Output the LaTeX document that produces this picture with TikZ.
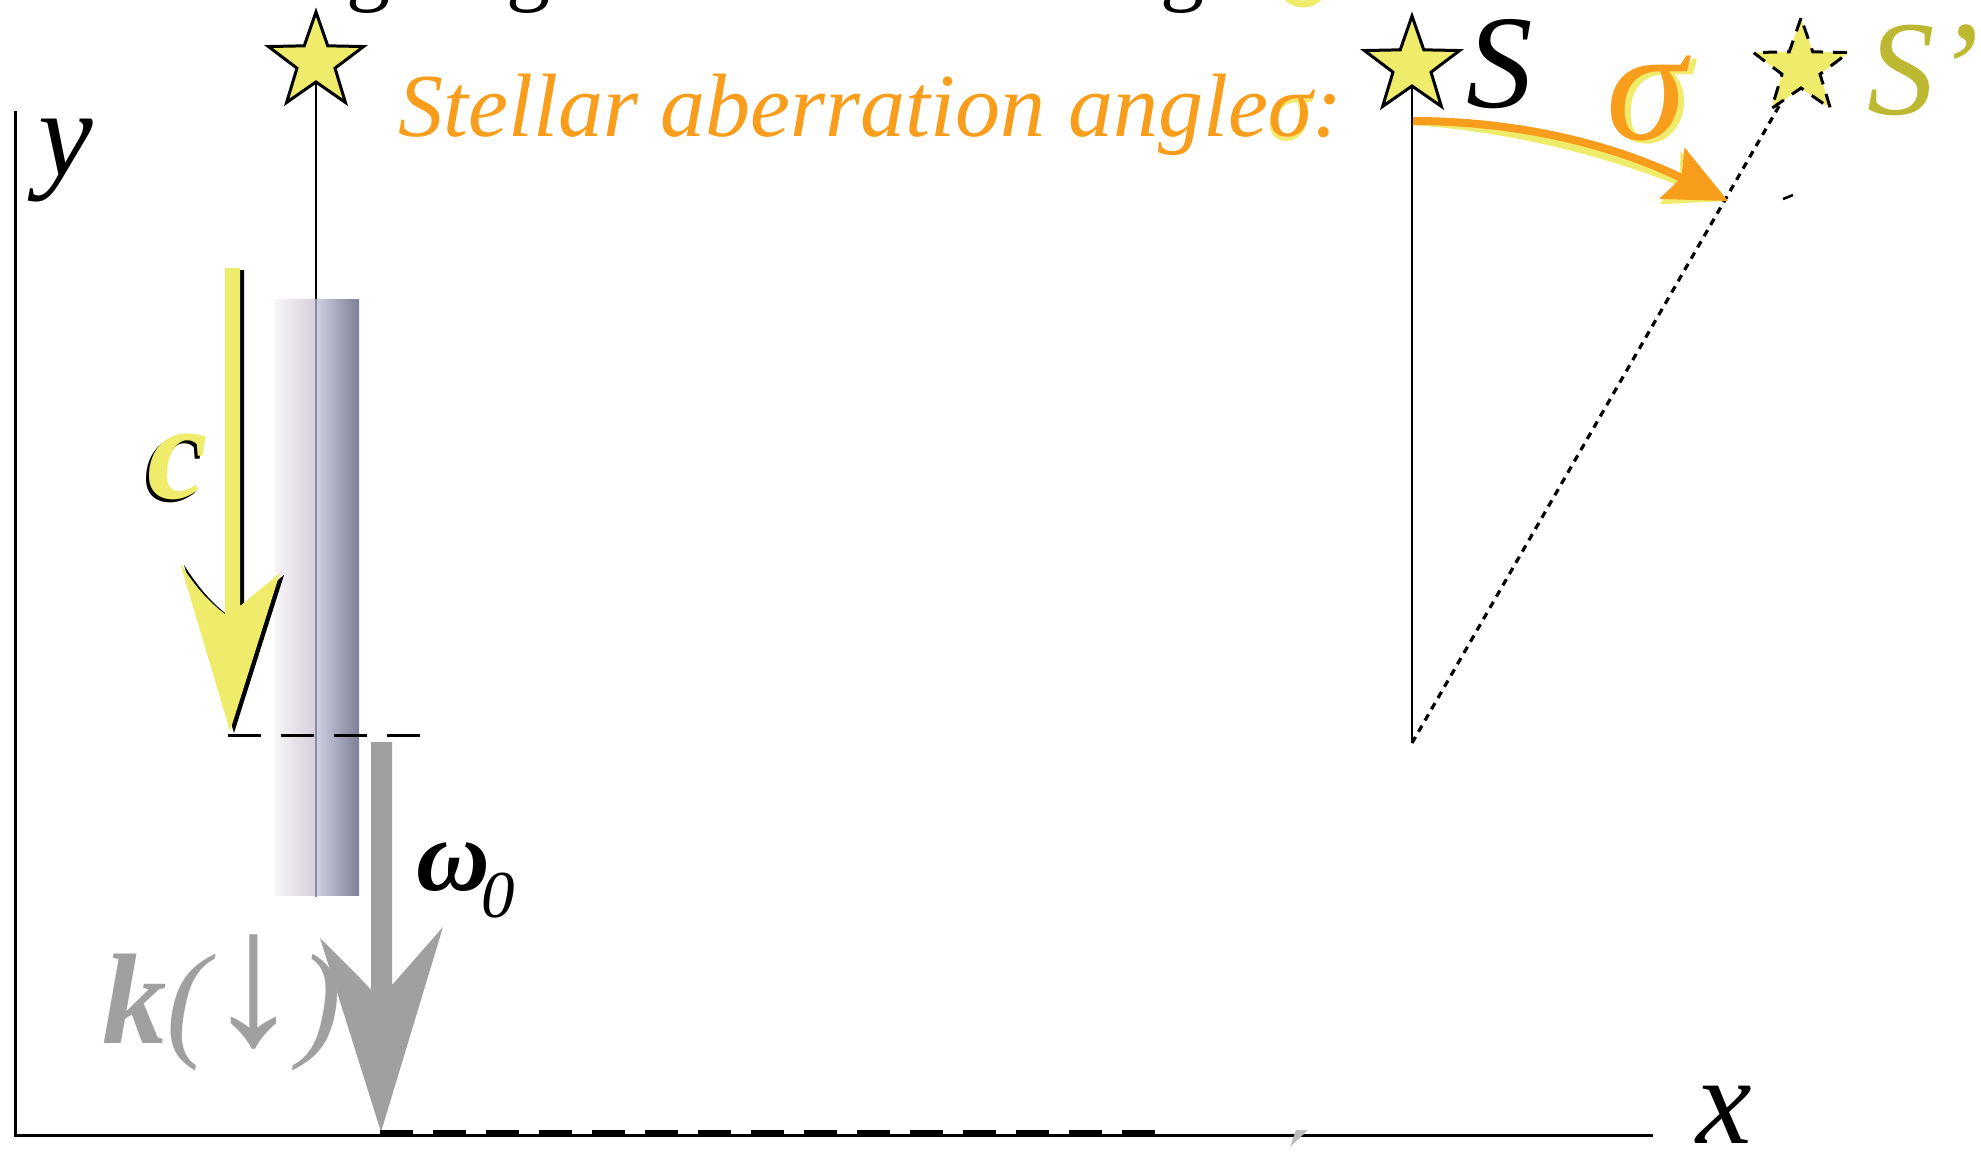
\documentclass[tikz,border=0pt]{standalone}
\usepackage{graphicx}
\usepackage{fontspec}
\setmainfont{Liberation Serif}
\usetikzlibrary{shapes.geometric,arrows.meta,backgrounds}
\definecolor{ylw}{HTML}{EFEB6B}
\definecolor{org}{HTML}{F99D1C}
\definecolor{olv}{HTML}{BDB832}
\definecolor{gry}{HTML}{A0A0A0}
\definecolor{tubeA}{HTML}{F7F5F7}
\definecolor{tubeB}{HTML}{D6CEDA}
\definecolor{tubeC}{HTML}{CED1E3}
\definecolor{tubeD}{HTML}{7C7F96}
\definecolor{tubeL}{HTML}{8A8C9E}
\newcommand{\fsz}[1]{\fontsize{#1}{#1}\selectfont}
\begin{document}
\begin{tikzpicture}[x=1pt,y=-1pt,
  starnode/.style={star, star points=5, star point ratio=2.5, minimum size=100pt, inner sep=0pt, line width=3pt, draw=black, fill=ylw},
  lbl/.style={inner sep=0pt, anchor=base},
  axisline/.style={line width=3pt, black},
  vline/.style={line width=2.6pt, black},
  dashA/.style={line width=3pt, dash pattern=on 33pt off 20pt},
  dashB/.style={line width=5pt, dash pattern=on 33pt off 20pt},
  dotline/.style={line width=3.2pt, dash pattern=on 7pt off 6pt},
  arcarrow/.style={line width=8pt, -{Stealth[length=62pt,width=56pt,inset=10pt]}},
]
\useasboundingbox (0,0) rectangle (1981,1157);

% cut-off line of text at the top
\node[lbl, font=\fsz{88pt}] (g1) at (368,-6) {g};
\node[lbl, font=\fsz{88pt}] (g2) at (528,-6) {g};
\node[lbl, font=\fsz{88pt}] (g3) at (1182,-6) {g};
\draw[ylw, line width=7pt] (1284,-8) .. controls (1290,8) and (1316,8) .. (1322,-8);

% axes
\coordinate (Ytop) at (15,111);
\coordinate (O) at (15,1135);
\coordinate (Xend) at (1653,1135);
\draw[axisline] (Ytop) -- (O) -- (Xend);
\node[lbl, font=\itshape\fsz{123pt}] (ylab) at (66,175) {y};
\node[lbl, font=\itshape\fsz{125pt}] (xlab) at (1724,1143) {x};

% tube
\shade[left color=tubeA, right color=tubeB] (275,299) rectangle (316,895);
\shade[left color=tubeC, right color=tubeD] (316,299) rectangle (359,895);
\coordinate (tubeTop) at (316,299);
\coordinate (tubeBot) at (316,897);
\draw[line width=2pt, tubeL] (tubeTop) -- (tubeBot);

% left star
\node[starnode] (sL) at (316,62) {};
\begin{pgfonlayer}{background}
\draw[vline] (sL.center) -- (tubeTop);
\end{pgfonlayer}

% yellow arrow c
\begin{scope}[shift={(4,2)}]
\fill[black] (225,268) -- (240,268) -- (240,606) -- (280,573) -- (230,731) -- (180,563) .. controls (196,588) and (210,603) .. (225,614) -- cycle;
\end{scope}
\fill[ylw] (225,268) -- (240,268) -- (240,606) -- (280,573) -- (230,731) -- (180,563) .. controls (196,588) and (210,603) .. (225,614) -- cycle;
\node[lbl, font=\bfseries\itshape\fsz{137pt}, text=black] (cshadow) at (175,501) {c};
\node[lbl, font=\bfseries\itshape\fsz{137pt}, text=ylw] (clab) at (178,498) {c};

\coordinate (cTip) at (228,735);
\coordinate (cDashEnd) at (422,735);
\draw[dashA] (cTip) -- (cDashEnd);

% grey arrow omega_0
\fill[gry] (371,742) -- (392,742) -- (392,985) -- (443,927) -- (381,1132) -- (320,938) .. controls (340,958) and (358,975) .. (371,990) -- cycle;
\node[lbl, font=\bfseries\itshape\fsz{102pt}] (omega) at (453,890) {ω};
\node[lbl, font=\itshape\fsz{67pt}] (omsub) at (498,917) {0};
\node[lbl, text=gry, font=\itshape\fsz{129pt}] (klab) at (222,1043) {\textbf{k}(\hspace{-4pt}\scalebox{1.5}{↓}\hspace{-4pt})};

\coordinate (wTip) at (380,1132);
\coordinate (wDashEnd) at (1160,1132);
\draw[dashB] (wTip) -- (wDashEnd);
\fill[gry!70] (1290,1147) -- (1296,1130) -- (1308,1130) -- cycle;

% right part
\node[starnode] (sS) at (1412,66) {};
\coordinate (Sbot) at (1412,743);
\node[lbl, font=\itshape\fsz{133pt}] (Slab) at (1500,107) {S};
\node[starnode, draw=black, dash pattern=on 14pt off 10pt] (sP) at (1801,68) {};
\node[lbl, anchor=base west, text=olv, font=\itshape\fsz{135pt}] (SPlab) at (1867,114) {S’};
\begin{pgfonlayer}{background}
\draw[vline] (sS.center) -- (Sbot);
\draw[dotline] (Sbot) -- (sP.center);
\end{pgfonlayer}
\draw[line width=2.5pt] (1783,199) -- (1793,195);

% aberration arrow
\coordinate (aStart) at (1413,121);
\coordinate (aEnd) at (1728,201);
\begin{scope}[shift={(-4,8)}]
\draw[ylw, arcarrow] (aStart) .. controls (1530,121) and (1625,150) .. (aEnd);
\end{scope}
\draw[org, arcarrow] (aStart) .. controls (1530,121) and (1625,150) .. (aEnd);
\node[lbl, text=ylw, font=\itshape\fsz{162pt}] (sigmash) at (1652,142) {σ};
\node[lbl, text=org, font=\itshape\fsz{162pt}] (sigma) at (1646,139) {σ};

% title text
\node[lbl, anchor=base west, text=org, font=\itshape\fsz{90pt}] (stellar) at (398,136)
  {Stellar aberration angle\makebox[0pt][l]{\hspace{-1pt}\raisebox{-4pt}{\color{ylw}σ}}σ:};
\end{tikzpicture}
\end{document}
